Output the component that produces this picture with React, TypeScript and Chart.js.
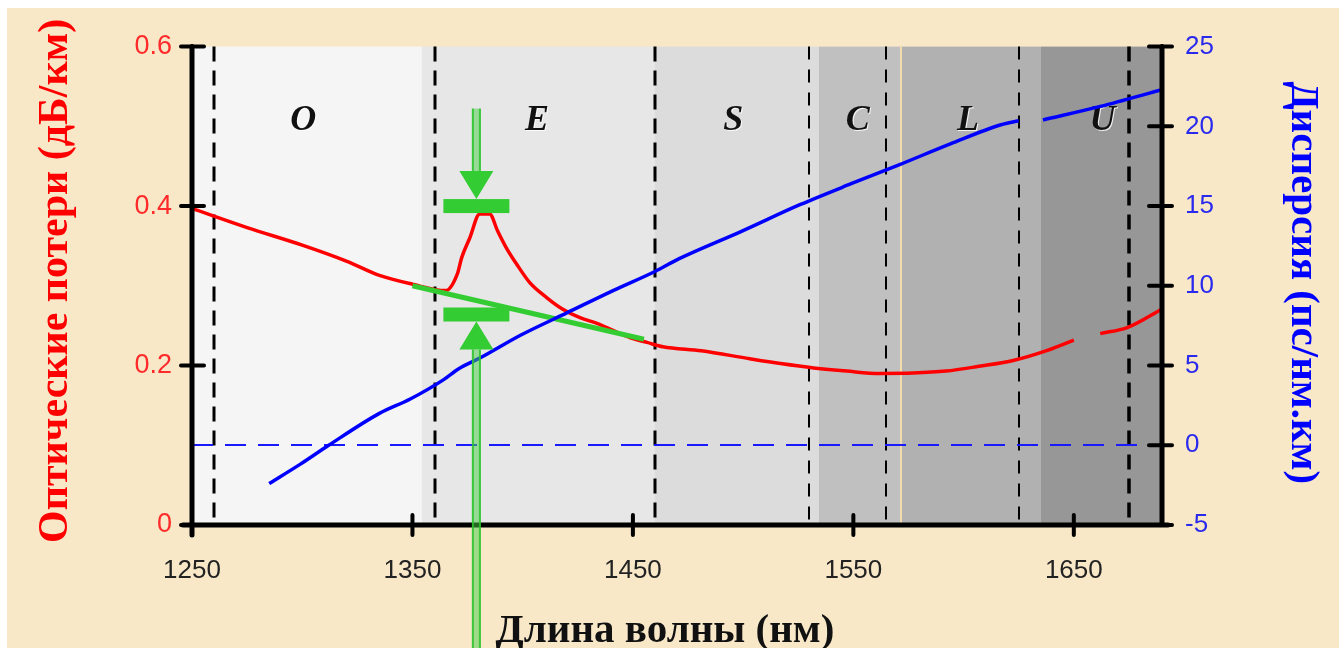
import React, { useEffect, useRef } from 'react';
import { Chart, registerables } from 'chart.js';

Chart.register(...registerables);

// Axis ticks
const WAVELENGTH_TICKS = [1250, 1350, 1450, 1550, 1650];
const LOSS_TICKS = [0, 0.2, 0.4, 0.6];
const DISPERSION_TICKS = [-5, 0, 5, 10, 15, 20, 25];

// Attenuation of the fibre, dB/km (null = break in the curve)
const LOSS_NM = [
  1250, 1275, 1300, 1320, 1335, 1350, 1365, 1370.5, 1372.3, 1376, 1380.5, 1385, 1388.6,
  1392.7, 1397.3, 1403.2, 1411, 1418, 1426, 1434, 1441, 1448.6, 1456.4, 1463.6, 1481,
  1503, 1517, 1532, 1547, 1562, 1577, 1592, 1607, 1622, 1638, 1650, 1656, 1662, 1674.5, 1690,
];
const LOSS_DB = [
  0.397, 0.373, 0.351, 0.331, 0.313, 0.302, 0.294, 0.316, 0.335, 0.36, 0.39, 0.39, 0.369,
  0.347, 0.327, 0.304, 0.285, 0.271, 0.26, 0.2525, 0.244, 0.235, 0.229, 0.2235, 0.2185,
  0.2085, 0.2025, 0.197, 0.193, 0.19, 0.1905, 0.193, 0.199, 0.206, 0.219, 0.232, null, 0.24, 0.248, 0.271,
];

// Chromatic dispersion, ps/(nm·km)
const DISP_NM = [
  1285, 1299, 1312, 1335, 1349, 1364, 1371, 1381, 1399, 1420, 1441, 1460, 1471, 1499,
  1526, 1549, 1571, 1594, 1617, 1625, 1630, 1636, 1662, 1690,
];
const DISP_PS = [
  -2.4, -1.2, 0, 2.0, 2.9, 4.1, 4.8, 5.5, 6.9, 8.3, 9.7, 10.9, 11.7, 13.4,
  15.1, 16.4, 17.6, 18.9, 20.1, 20.35, null, 20.4, 21.25, 22.3,
];

// Loss without the water peak
const BASELINE_NM = [1350, 1455];
const BASELINE_DB = [0.3, 0.233];

// Water peak markers
const WATER_PEAK_NM = 1379;
const WATER_PEAK_TOP_DB = 0.4;
const WATER_PEAK_BASE_DB = 0.264;

// Spectral bands
const BAND_NAMES = ['O', 'E', 'S', 'C', 'L', 'U'];
const BAND_LABEL_NM = [1300.5, 1406.5, 1495.5, 1552, 1602, 1663];
const BAND_EDGES = [1250, 1354.3, 1460, 1534.4, 1571.6, 1635.1, 1690];
const BAND_FILLS = ['#f5f5f5', '#e7e7e7', '#dcdcdc', '#c0c0c0', '#b1b1b1', '#979797'];
const BAND_DIVIDERS = [1260, 1360, 1460, 1530, 1565, 1625, 1675];
const DIVIDER_WIDTHS = [3, 3, 3, 2, 2, 2, 3.5];
const SEAM_NM = 1571.6;

const X_TITLE = 'Длина волны (нм)';
const LOSS_TITLE = 'Оптические потери (дБ/км)';
const DISP_TITLE = 'Дисперсия (пс/нм.км)';

const SANS = '"Liberation Sans", Arial, sans-serif';
const SERIF = '"Liberation Serif", "Times New Roman", serif';
const GREEN = '#33cc33';

const decorations = {
  id: 'decorations',
  beforeDatasetsDraw(chart: any) {
    const { ctx, chartArea: a, scales } = chart;
    const x = scales.x;
    const yd = scales.yDisp;
    ctx.save();
    BAND_FILLS.forEach((c, i) => {
      const x0 = x.getPixelForValue(BAND_EDGES[i]);
      const x1 = x.getPixelForValue(BAND_EDGES[i + 1]);
      ctx.fillStyle = c;
      ctx.fillRect(x0, a.top, x1 - x0, a.bottom - a.top);
    });
    const sx = x.getPixelForValue(SEAM_NM);
    ctx.fillStyle = '#f3dcae';
    ctx.fillRect(sx - 1, a.top, 2, a.bottom - a.top);

    ctx.strokeStyle = '#000';
    BAND_DIVIDERS.forEach((nm, i) => {
      const px = Math.round(x.getPixelForValue(nm));
      ctx.lineWidth = DIVIDER_WIDTHS[i];
      ctx.setLineDash(DIVIDER_WIDTHS[i] > 2.5 ? [15, 9] : [13, 10]);
      ctx.beginPath();
      ctx.moveTo(px, a.top);
      ctx.lineTo(px, a.bottom);
      ctx.stroke();
    });

    const y0 = Math.round(yd.getPixelForValue(0));
    ctx.strokeStyle = '#1a1aff';
    ctx.lineWidth = 2;
    ctx.setLineDash([21, 12]);
    ctx.beginPath();
    ctx.moveTo(a.left, y0);
    ctx.lineTo(a.right, y0);
    ctx.stroke();
    ctx.setLineDash([]);

    ctx.font = `italic bold 36px ${SERIF}`;
    ctx.textAlign = 'center';
    ctx.textBaseline = 'middle';
    ctx.shadowColor = 'rgba(255,255,255,0.85)';
    ctx.shadowOffsetX = 1;
    ctx.shadowOffsetY = 1;
    ctx.fillStyle = '#111';
    BAND_NAMES.forEach((n, i) => {
      ctx.fillText(n, x.getPixelForValue(BAND_LABEL_NM[i]), a.top + 74);
    });
    ctx.restore();
  },
  afterDraw(chart: any) {
    const { ctx, chartArea: a, scales } = chart;
    const x = scales.x;
    const yl = scales.yLoss;
    const yd = scales.yDisp;
    ctx.save();

    // axes with crossing tick marks
    ctx.strokeStyle = '#000';
    ctx.lineCap = 'round';
    ctx.lineWidth = 5;
    ctx.beginPath();
    ctx.moveTo(a.left, a.top);
    ctx.lineTo(a.left, a.bottom + 10);
    ctx.moveTo(a.right, a.top);
    ctx.lineTo(a.right, a.bottom);
    ctx.moveTo(a.left - 9, a.bottom);
    ctx.lineTo(a.right + 6, a.bottom);
    ctx.stroke();
    ctx.lineWidth = 4;
    ctx.beginPath();
    LOSS_TICKS.forEach((v) => {
      const py = yl.getPixelForValue(v);
      ctx.moveTo(a.left - 11, py);
      ctx.lineTo(a.left + 12, py);
    });
    DISPERSION_TICKS.forEach((v) => {
      const py = yd.getPixelForValue(v);
      ctx.moveTo(a.right - 13, py);
      ctx.lineTo(a.right + 10, py);
    });
    WAVELENGTH_TICKS.forEach((v) => {
      const px = x.getPixelForValue(v);
      ctx.moveTo(px, a.bottom - 10);
      ctx.lineTo(px, a.bottom + 10);
    });
    ctx.stroke();

    // water peak markers
    const cx = x.getPixelForValue(WATER_PEAK_NM);
    const yTop = yl.getPixelForValue(WATER_PEAK_TOP_DB);
    const yBase = yl.getPixelForValue(WATER_PEAK_BASE_DB);
    const shaft = (y0: number, y1: number) => {
      ctx.fillStyle = 'rgba(70,205,70,0.5)';
      ctx.fillRect(cx - 4.5, y0, 9, y1 - y0);
      ctx.fillStyle = 'rgba(45,195,45,0.85)';
      ctx.fillRect(cx - 4.5, y0, 2, y1 - y0);
      ctx.fillRect(cx + 2.5, y0, 2, y1 - y0);
    };
    shaft(a.top + 62, yTop - 35);
    shaft(yBase + 35, chart.height);
    ctx.fillStyle = GREEN;
    ctx.fillRect(cx - 33, yTop - 7, 66, 14);
    ctx.fillRect(cx - 33, yBase - 7, 66, 14);
    ctx.beginPath();
    ctx.moveTo(cx - 17, yTop - 35);
    ctx.lineTo(cx + 17, yTop - 35);
    ctx.lineTo(cx, yTop - 7);
    ctx.closePath();
    ctx.moveTo(cx - 17, yBase + 35);
    ctx.lineTo(cx + 17, yBase + 35);
    ctx.lineTo(cx, yBase + 7);
    ctx.closePath();
    ctx.fill();

    // axis titles
    ctx.textAlign = 'center';
    ctx.textBaseline = 'middle';
    ctx.fillStyle = '#ff0000';
    ctx.font = `bold 42px ${SERIF}`;
    ctx.save();
    ctx.translate(49, (a.top + a.bottom) / 2 - 5);
    ctx.rotate(-Math.PI / 2);
    ctx.fillText(LOSS_TITLE, 0, 0);
    ctx.restore();

    ctx.fillStyle = '#0000ff';
    ctx.font = `bold 41px ${SERIF}`;
    ctx.save();
    ctx.translate(1296, (a.top + a.bottom) / 2 - 3);
    ctx.rotate(Math.PI / 2);
    ctx.fillText(DISP_TITLE, 0, 0);
    ctx.restore();

    ctx.fillStyle = '#111';
    ctx.font = `bold 41px ${SERIF}`;
    ctx.textBaseline = 'alphabetic';
    ctx.fillText(X_TITLE, 658, 634);
    ctx.restore();
  },
};

export default function App() {
  const ref = useRef<HTMLCanvasElement | null>(null);

  useEffect(() => {
    if (!ref.current) return;
    const chart = new Chart(ref.current, {
      type: 'line',
      data: {
        datasets: [
          {
            label: 'loss',
            data: LOSS_NM.map((nm, i) => ({ x: nm, y: LOSS_DB[i] })),
            yAxisID: 'yLoss',
            borderColor: '#ff0000',
            borderWidth: 3.5,
            pointRadius: 0,
            fill: false,
            spanGaps: false,
            cubicInterpolationMode: 'monotone',
            order: 2,
          },
          {
            label: 'baseline',
            data: BASELINE_NM.map((nm, i) => ({ x: nm, y: BASELINE_DB[i] })),
            yAxisID: 'yLoss',
            borderColor: GREEN,
            borderWidth: 5,
            pointRadius: 0,
            fill: false,
            order: 1,
          },
          {
            label: 'dispersion',
            data: DISP_NM.map((nm, i) => ({ x: nm, y: DISP_PS[i] })),
            yAxisID: 'yDisp',
            borderColor: '#0000ff',
            borderWidth: 3.5,
            pointRadius: 0,
            fill: false,
            spanGaps: false,
            cubicInterpolationMode: 'monotone',
            order: 0,
          },
        ],
      },
      options: {
        animation: false,
        responsive: false,
        events: [],
        layout: { padding: { top: 37, left: 0, right: 0, bottom: 0 } },
        plugins: {
          legend: { display: false },
          tooltip: { enabled: false },
          title: { display: false },
        },
        scales: {
          x: {
            type: 'linear',
            position: 'bottom',
            min: 1250,
            max: 1690,
            grid: { display: false, drawTicks: false },
            border: { display: false },
            ticks: {
              padding: 30,
              color: '#222',
              font: { family: SANS, size: 26 },
              maxRotation: 0,
              autoSkip: false,
              callback: (v: any) => String(v),
            },
            afterBuildTicks: (s: any) => {
              s.ticks = WAVELENGTH_TICKS.map((v) => ({ value: v }));
            },
            afterFit: (s: any) => {
              s.height = 123;
            },
          },
          yLoss: {
            type: 'linear',
            position: 'left',
            min: 0,
            max: 0.6,
            grid: { display: false, drawTicks: false },
            border: { display: false },
            ticks: {
              padding: 20,
              color: '#ff2a2a',
              font: { family: SANS, size: 27 },
              autoSkip: false,
              callback: (v: any) => String(v),
            },
            afterBuildTicks: (s: any) => {
              s.ticks = LOSS_TICKS.map((v) => ({ value: v }));
            },
            afterFit: (s: any) => {
              s.width = 185;
            },
          },
          yDisp: {
            type: 'linear',
            position: 'right',
            min: -5,
            max: 25,
            grid: { display: false, drawTicks: false },
            border: { display: false },
            ticks: {
              padding: 23,
              color: '#2a2aee',
              font: { family: SANS, size: 26 },
              autoSkip: false,
              callback: (v: any) => String(v),
            },
            afterBuildTicks: (s: any) => {
              s.ticks = DISPERSION_TICKS.map((v) => ({ value: v }));
            },
            afterFit: (s: any) => {
              s.width = 177;
            },
          },
        },
      },
      plugins: [decorations],
    } as any);
    return () => chart.destroy();
  }, []);

  return (
    <div style={{ position: 'fixed', inset: 0, background: '#ffffff', overflow: 'hidden' }}>
      <div
        style={{
          position: 'absolute',
          left: 7,
          top: 8,
          width: 1332,
          height: 640,
          background: '#f8e8c8',
        }}
      >
        <canvas ref={ref} width={1332} height={640} style={{ display: 'block' }} />
      </div>
    </div>
  );
}
